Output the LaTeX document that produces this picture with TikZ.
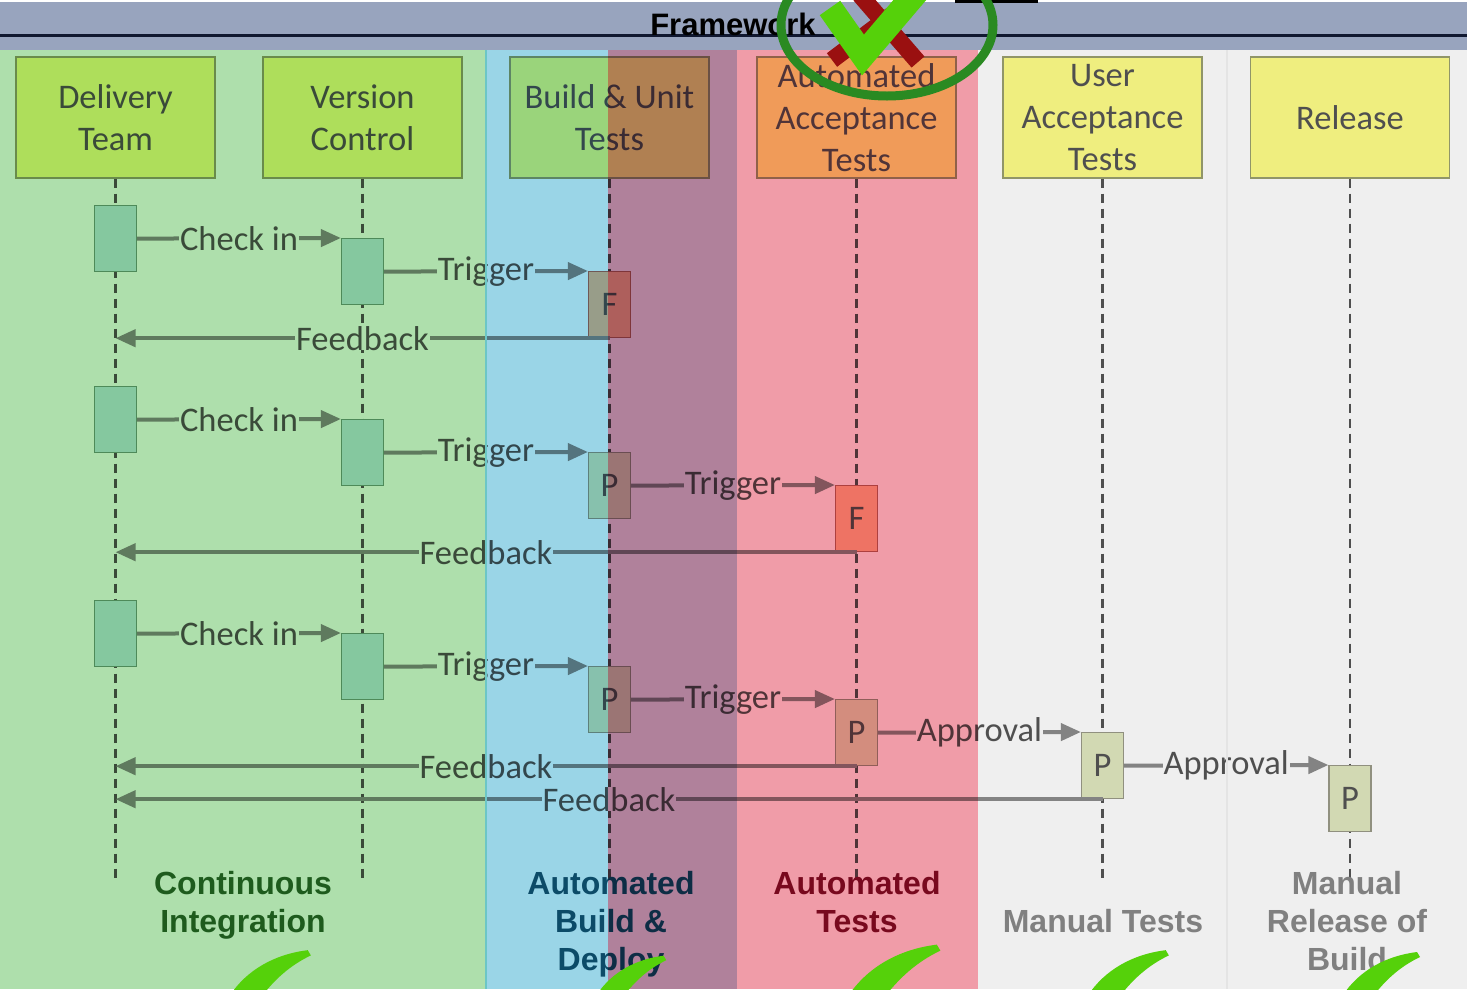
\documentclass[tikz,border=0pt]{standalone}
\usepackage{fontspec}
\setmainfont{Carlito}
\newfontfamily\capfont{Liberation Sans}
\usetikzlibrary{arrows.meta,positioning}

\definecolor{bandgreen}{HTML}{AEDFAC}
\definecolor{bandblue}{HTML}{9AD5E7}
\definecolor{bandpurple}{HTML}{B0819B}
\definecolor{bandpink}{HTML}{F09CA8}
\definecolor{bandgrey}{HTML}{EFEFEF}
\definecolor{topbar}{HTML}{98A4BE}
\definecolor{headfill}{HTML}{FFFE88}
\definecolor{headline}{HTML}{9AA070}
\definecolor{inkgrey}{HTML}{555555}
\definecolor{wiregrey}{HTML}{8C8C8C}
\definecolor{ciblue}{HTML}{C4E5ED}
\definecolor{ciline}{HTML}{739E85}
\definecolor{passfill}{HTML}{E1E8C0}
\definecolor{passline}{HTML}{9A9A88}
\definecolor{failfill}{HTML}{FDBC98}
\definecolor{failline}{HTML}{B86A60}
\definecolor{tickgreen}{HTML}{55D10A}
\definecolor{ringgreen}{HTML}{2A8A22}
\definecolor{crossred}{HTML}{9A1010}
\definecolor{cigreen}{HTML}{2C692C}
\definecolor{buildteal}{HTML}{145A73}
\definecolor{testred}{HTML}{80102E}
\definecolor{manualgrey}{HTML}{898989}
\definecolor{edgeteal}{HTML}{6CC6C6}
\definecolor{edgegrey}{HTML}{E4E4E4}
\definecolor{rulenavy}{HTML}{101830}

\newcommand\headsize{\fontsize{34.5}{42}\selectfont}
\newcommand\zonesize{\capfont\bfseries\fontsize{32}{38}\selectfont}
\newcommand\bottomtick[2]{\fill[tickgreen, shift={(#1,989)}, scale=#2] (0,6) .. controls (16,-18) and (42,-33) .. (74,-37) -- (77,-32) .. controls (56,-22) and (42,-8) .. (31,6) -- cycle;}

\tikzset{
  head/.style={draw=headline, line width=1.2pt, fill=headfill, minimum width=199pt, minimum height=121pt, inner sep=0pt, align=center, text=inkgrey, font=\headsize},
  life/.style={inkgrey, line width=2.5pt, dash pattern=on 9pt off 6pt},
  act/.style={anchor=north, minimum width=42pt, minimum height=66pt, inner sep=0pt, line width=1.2pt, text=inkgrey, font=\headsize},
  cibox/.style={act, draw=ciline, fill=ciblue},
  passbox/.style={act, draw=passline, fill=passfill},
  failbox/.style={act, draw=failline, fill=failfill},
  msg/.style={wiregrey, line width=4pt, -{Triangle[length=20pt,width=17pt]}},
  msgtext/.style={fill=white, inner xsep=1pt, inner ysep=0pt, text=inkgrey, font=\headsize},
  zone/.style={font=\zonesize, align=center}
}

\begin{document}
\begin{tikzpicture}[x=1pt,y=-1pt]
\useasboundingbox (0,0) rectangle (1467,989);
\clip (0,0) rectangle (1467,989);
\fill[white] (0,0) rectangle (1467,989);

% header boxes and lifelines
\node[head] (dt) at (115.5,117.5) {Delivery\\Team};
\node[head] (vc) at (362.5,117.5) {Version\\Control};
\node[head] (bu) at (609.5,117.5) {Build \& Unit\\Tests};
\node[head] (aat) at (856.5,117.5) {Automated\\Acceptance\\Tests};
\node[head] (uat) at (1102.5,117.5) {User\\Acceptance\\Tests};
\node[head] (rel) at (1350,117.5) {Release};
\foreach \n in {dt,vc,bu,aat,uat,rel}
  \draw[life] (\n.south) -- ++(0,702);

% first run: unit tests fail
\node[cibox] (dt1) at (115.5,205) {};
\node[cibox] (vc1) at (362.5,238) {};
\node[failbox] (bu1) at (609.5,271) {F};
\draw[msg] (dt1.east) -- node[msgtext] {Check in} (vc1.north west);
\draw[msg] (vc1.east) -- node[msgtext] {Trigger} (bu1.north west);
\draw[msg] (bu1.south) -- node[msgtext] {Feedback} (bu1.south -| dt1);

% second run: acceptance tests fail
\node[cibox] (dt2) at (115.5,386) {};
\node[cibox] (vc2) at (362.5,419) {};
\node[passbox] (bu2) at (609.5,452) {P};
\node[failbox] (aat2) at (856.5,485) {F};
\draw[msg] (dt2.east) -- node[msgtext] {Check in} (vc2.north west);
\draw[msg] (vc2.east) -- node[msgtext] {Trigger} (bu2.north west);
\draw[msg] (bu2.east) -- node[msgtext] {Trigger} (aat2.north west);
\draw[msg] (aat2.south) -- node[msgtext] {Feedback} (aat2.south -| dt2);

% third run: all pass
\node[cibox] (dt3) at (115.5,600) {};
\node[cibox] (vc3) at (362.5,633) {};
\node[passbox] (bu3) at (609.5,666) {P};
\node[passbox] (aat3) at (856.5,699) {P};
\node[passbox] (uat3) at (1102.5,732) {P};
\node[passbox] (rel3) at (1350,765) {P};
\draw[msg] (dt3.east) -- node[msgtext] {Check in} (vc3.north west);
\draw[msg] (vc3.east) -- node[msgtext] {Trigger} (bu3.north west);
\draw[msg] (bu3.east) -- node[msgtext] {Trigger} (aat3.north west);
\draw[msg] (aat3.east) -- node[msgtext] {Approval} (uat3.north west);
\draw[msg] (uat3.east) -- node[msgtext] {Approval} (rel3.north west);
\draw[msg] (aat3.south) -- node[msgtext] {Feedback} (aat3.south -| dt3);
\draw[msg] (uat3.south) -- node[msgtext] {Feedback} (uat3.south -| dt3);

% zone captions
\node[zone, text=cigreen] (ci) at (243,905) {Continuous\\Integration};
\node[zone, text=buildteal] (abd) at (611,924) {Automated\\Build \&\\Deploy};
\node[zone, text=testred] (at) at (857,902) {Automated\\Tests};
\node[zone, text=manualgrey] (mt) at (1103,921) {Manual Tests};
\node[zone, text=manualgrey] (mr) at (1347,921) {Manual\\Release of\\Build};

% coloured zones laid over everything
\begin{scope}[blend mode=multiply]
\fill[bandgreen] (0,50) rectangle (486,989);
\fill[bandblue] (486,50) rectangle (608,989);
\fill[bandpurple] (608,50) rectangle (737,989);
\fill[bandpink] (737,50) rectangle (978,989);
\fill[bandgrey] (978,50) rectangle (1467,989);
\end{scope}
\draw[edgeteal, line width=2pt] (486,50) -- (486,989);
\draw[edgegrey, line width=1.5pt] (1227,50) -- (1227,989);

% ticks at the bottom
\bottomtick{230}{1.05}
\bottomtick{597}{0.9}
\bottomtick{848}{1.2}
\bottomtick{1088}{1.05}
\bottomtick{1343}{1}

% title bar
\fill[topbar] (0,2) rectangle (1467,50);
\draw[rulenavy, line width=3pt] (0,35) -- (1467,35);
\node[font=\capfont\bfseries\fontsize{31}{31}\selectfont, anchor=base] (fw) at (733,35) {Framework};
\fill[black] (955,0) rectangle (1038,2.5);
\draw[crossred, line width=17pt] (860,-5) -- (918,62);
\draw[crossred, line width=17pt] (918,-5) -- (832,60);
\draw[tickgreen, line width=25pt] (830,8) -- (863,55) -- (920,-12);
\draw[ringgreen, line width=9pt] (887,25) ellipse [x radius=106, y radius=71];
\end{tikzpicture}
\end{document}
